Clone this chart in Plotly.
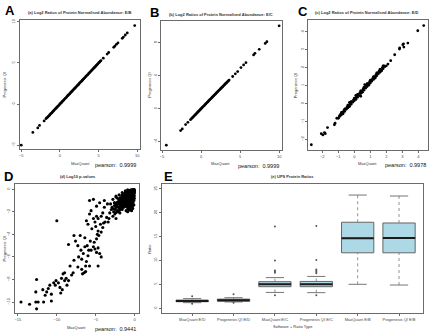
import plotly.graph_objects as go

# ---------------- data ----------------
# Panel A: Log2 ratios E/B (MaxQuant vs Progenesis QI)
a_x = [-5.0, -3.5, -2.86, -2.64, -2.04, -1.8,
       -1.7, -1.6, -1.5, -1.4, -1.3, -1.2, -1.1, -1.0, -0.9, -0.8, -0.7, -0.6, -0.5, -0.4, -0.3, -0.2, -0.1,
       0.0, 0.1, 0.2, 0.3, 0.4, 0.5, 0.6, 0.7, 0.8, 0.9, 1.0, 1.1, 1.2, 1.3, 1.4, 1.5, 1.6, 1.7, 1.8, 1.9,
       2.0, 2.1, 2.2, 2.3, 2.4, 2.5, 2.6, 2.7, 2.8, 2.9, 3.0, 3.1, 3.2, 3.3, 3.4, 3.5, 3.6, 3.7, 3.8, 3.9,
       4.0, 4.1, 4.2, 4.3, 4.4, 4.5, 4.6, 4.7, 4.8, 4.9, 5.0, 5.1, 5.2, 5.3,
       5.6, 6.1, 6.3, 6.95, 7.1, 7.3, 7.5, 8.05, 8.2, 8.45, 8.7, 9.66]
a_y = [-5.0, -3.45, -2.9, -2.6, -2.05, -1.78,
       -1.68, -1.61, -1.49, -1.41, -1.3, -1.19, -1.11, -1.0, -0.89, -0.81, -0.7, -0.59, -0.51, -0.4, -0.29, -0.21, -0.1,
       0.01, 0.1, 0.19, 0.31, 0.4, 0.49, 0.61, 0.7, 0.79, 0.9, 1.01, 1.1, 1.19, 1.3, 1.41, 1.5, 1.59, 1.7, 1.81, 1.9,
       1.99, 2.1, 2.21, 2.3, 2.39, 2.5, 2.61, 2.7, 2.79, 2.9, 3.01, 3.1, 3.19, 3.3, 3.41, 3.5, 3.59, 3.7, 3.8, 3.89,
       4.0, 4.1, 4.19, 4.3, 4.4, 4.49, 4.6, 4.7, 4.79, 4.9, 5.0, 5.09, 5.2, 5.29,
       5.58, 6.08, 6.27, 6.9, 7.06, 7.27, 7.45, 8.0, 8.15, 8.4, 8.65, 9.55]

# Panel B: Log2 ratios E/C
b_x = [-4.45, -2.62, -2.41, -1.98, -1.69, -1.35,
       -1.2, -1.1, -1.0, -0.9, -0.8, -0.7, -0.6, -0.5, -0.4, -0.3, -0.2, -0.1, 0.0, 0.1, 0.2, 0.3, 0.4, 0.5,
       0.6, 0.7, 0.8, 0.9, 1.0, 1.1, 1.2, 1.3, 1.4, 1.5, 1.6, 1.7, 1.8, 1.9, 2.0, 2.1, 2.2, 2.3, 2.4, 2.5,
       2.6, 2.7, 2.8, 2.9, 3.0, 3.1, 3.2, 3.3, 3.4, 3.5, 3.6,
       4.05, 4.39, 4.69, 5.11, 5.45, 5.75, 6.73, 6.9, 7.45, 8.22, 8.43, 10.0]
b_y = [-4.42, -2.65, -2.45, -1.93, -1.65, -1.33,
       -1.19, -1.09, -0.99, -0.9, -0.79, -0.69, -0.6, -0.49, -0.4, -0.3, -0.2, -0.1, -0.01, 0.09, 0.19, 0.29, 0.38, 0.48,
       0.58, 0.68, 0.77, 0.87, 0.97, 1.07, 1.16, 1.26, 1.36, 1.45, 1.55, 1.65, 1.74, 1.84, 1.94, 2.03, 2.13, 2.22, 2.32, 2.42,
       2.51, 2.61, 2.7, 2.8, 2.9, 2.99, 3.09, 3.18, 3.28, 3.37, 3.47,
       3.9, 4.22, 4.5, 4.98, 5.3, 5.58, 6.51, 6.71, 7.19, 7.91, 8.11, 10.04]

# Panel C: Log2 ratios E/D
c_x = [-2.68, -2.06, -1.96, -1.86, -1.81, -1.67, -1.24, -1.2, -1.09, -0.99, -0.93,
       -0.9, -0.85, -0.8, -0.75, -0.7, -0.65, -0.6, -0.55, -0.5, -0.45, -0.4, -0.35, -0.3, -0.25, -0.2, -0.15,
       -0.1, -0.05, 0.0, 0.05, 0.1, 0.15, 0.2, 0.25, 0.3, 0.35, 0.4, 0.45, 0.5, 0.55, 0.6, 0.65, 0.7, 0.75,
       0.8, 0.85, 0.9, 0.95, 1.0, 1.05, 1.1, 1.15, 1.2, 1.25, 1.3, 1.35, 1.4, 1.45, 1.5, 1.55, 1.6, 1.65,
       1.7, 1.75, 1.8, 1.85, 1.9,
       -0.8, -0.6, -0.4, -0.2, 0.0, 0.2, 0.4, 0.6, 0.8, 1.0, 1.2, 1.4, 1.6, 1.8, -0.7, -0.3, 0.1, 0.5, 0.9, 1.3, 1.7,
       -0.3, 0.1, 0.4, 0.65,
       1.03, 2.0, 2.1, 2.27, 2.52, 2.82, 3.03, 3.07, 2.83, 3.09, 3.34, 3.96, 4.33]
c_y = [-2.31, -1.69, -1.76, -1.63, -1.69, -1.35, -1.2, -1.11, -0.83, -0.83, -0.7,
       -0.72, -0.6, -0.63, -0.5, -0.52, -0.4, -0.45, -0.3, -0.33, -0.2, -0.25, -0.1, -0.14, 0.0, -0.05, 0.1,
       0.06, 0.2, 0.15, 0.3, 0.25, 0.4, 0.34, 0.5, 0.44, 0.6, 0.55, 0.7, 0.64, 0.8, 0.74, 0.9, 0.85, 1.0,
       0.94, 1.1, 1.05, 1.2, 1.14, 1.3, 1.25, 1.4, 1.34, 1.5, 1.45, 1.6, 1.54, 1.7, 1.65, 1.8, 1.74, 1.9,
       1.85, 2.0, 1.94, 2.1, 2.05,
       -0.5, -0.32, -0.1, 0.1, 0.3, 0.5, 0.7, 0.9, 1.1, 1.3, 1.5, 1.7, 1.9, 2.1, -0.58, -0.18, 0.22, 0.62, 1.02, 1.42, 1.82,
       0.05, 0.45, 0.4, 1.05,
       1.24, 2.1, 2.2, 2.39, 2.72, 3.04, 3.28, 3.33, 3.1, 3.15, 3.37, 4.06, 4.35]

# Panel D: Log10 p-values
d_x = [-14.6, -13.5, -12.7, -12.6, -12.4, -11.7, -10.7, -12.7, -12.6, -11.8, -11.5, -11.3, -11.1, -10.7,
       -10.9, -10.4, -10.2, -10.1, -9.8, -9.6, -9.5, -9.3, -9.4, -9.2, -9.0, -9.0, -8.8, -8.7, -8.5,
       -10.0, -8.5, -7.8, -7.6, -7.0, -7.8, -7.3, -7.2, -6.9, -6.8, -6.6, -6.4, -6.3, -6.2, -6.0, -5.9,
       -5.8, -5.8, -5.6, -6.1, -5.3, -5.1, -4.9, -4.7, -4.5, -5.2, -4.9, -4.6, -4.3, -4.1, -4.7, -4.4,
       -6.2, -6.0, -5.8, -5.6, -5.3, -5.1, -4.9, -4.7, -4.3, -4.1, -3.9, -3.6, -3.4, -3.2, -3.0, -3.5,
       -3.9, -4.5, -4.9, -5.3, -2.6, -2.4, -2.1, -1.9, -1.7, -1.5, -2.8, -2.4, -4.7, -4.3, -6.5, -6.8,
       -7.3, -7.9, -8.1, -8.3, -6.3, -6.7, -5.5, -5.0, -4.8, -3.8, -3.3, -4.0, -6.4, -5.7,
       -0.1, -0.2, -0.3, -0.15, -0.4, -0.5, -0.25, -0.6, -0.7, -0.35, -0.8, -0.9, -0.5, -1.0, -1.1, -0.65,
       -1.2, -1.3, -0.8, -1.4, -1.5, -1.0, -1.6, -1.7, -1.2, -1.8, -1.9, -1.4, -2.0, -2.1, -1.6, -2.2,
       -2.3, -2.5, -2.7, -0.05, -0.1, -0.15, -0.2, -0.3, -0.05, -0.1, -0.4, -0.2, -0.3, -0.45, -0.55,
       -0.7, -0.85, -0.6, -0.9, -1.1, -0.3, -0.5, -0.75, -0.95, -1.15, -1.35, -1.55, -1.75, -1.95, -0.6,
       -0.85, -1.05, -1.25, -1.45, -1.65, -1.85, -2.05, -2.25, -2.45, -0.15, -0.35, -0.55, -0.25, -0.45,
       -0.65, -0.05, -0.12, -0.22, -0.38, -0.48, -0.58, -0.78, -0.88, -0.98, -1.08, -1.18, -1.28, -1.38,
       -1.48, -1.58, -1.68, -1.78, -0.02, -0.08, -0.18, -0.28, -0.33, -0.42, -0.52, -0.62, -0.72, -0.82,
       -0.92, -1.02, -0.1, -0.25, -0.4, -0.7, -2.2, -2.6, -2.9, -3.1, -2.8, -2.4, -2.0, -1.6, -1.2, -0.9,
       -0.05, -0.12, -0.2, -0.28, -0.36, -0.44, -0.52, -0.6, -0.68, -0.76, -0.84, -0.92, -1.0, -1.08,
       -1.16, -1.24, -1.32, -1.4, -1.48, -1.56,
       -0.08, -0.16, -0.24, -0.32, -0.4, -0.48, -0.56, -0.64, -0.72, -0.8, -0.88, -0.96, -1.04, -1.12,
       -1.2, -1.28, -1.36, -1.44, -1.52, -1.6,
       -1.7, -1.85, -2.0, -2.15, -2.3, -2.45, -2.6, -2.75, -1.9, -2.1, -2.35, -2.55, -0.15, -0.3,
       -0.45, -0.6, -0.75, -0.9, -1.05, -0.2]
d_y = [-10.0, -10.2, -10.0, -10.6, -10.0, -10.0, -9.9, -9.1, -8.0, -8.9, -9.4, -9.1, -8.8, -9.3,
       -8.5, -8.3, -8.5, -8.1, -8.3, -8.7, -9.2, -8.9, -7.9, -7.5, -7.4, -8.1, -7.9, -8.5, -8.1,
       -2.8, -4.9, -4.1, -4.6, -4.1, -6.3, -5.0, -6.0, -5.4, -6.2, -5.7, -5.1, -6.8, -6.4, -5.9, -5.4,
       -1.0, -6.8, -5.4, -5.0, -5.1, -5.3, -5.6, -5.2, -5.7, -4.7, -4.4, -4.1, -3.8, -3.4, -3.7, -3.1,
       -2.8, -3.1, -2.2, -1.9, -2.6, -2.9, -2.4, -2.6, -2.4, -2.1, -1.6, -2.5, -2.9, -2.1, -1.8, -1.3,
       -1.0, -1.2, -1.5, -0.9, -1.2, -0.7, -1.6, -2.1, -1.3, -1.0, -2.4, -2.6, -6.8, -6.0, -7.4, -7.1,
       -6.9, -7.4, -7.6, -6.8, -7.3, -7.5, -3.5, -3.3, -4.0, -2.9, -2.6, -3.0, -4.3, -4.6,
       -0.05, -0.1, -0.15, -0.3, -0.2, -0.1, -0.45, -0.35, -0.2, -0.6, -0.5, -0.3, -0.7, -0.6, -0.4, -0.85,
       -0.8, -0.55, -1.0, -1.0, -0.7, -1.2, -1.2, -0.9, -1.4, -1.45, -1.1, -1.6, -1.6, -1.3, -1.8, -1.9,
       -1.5, -1.8, -2.0, -0.3, -0.5, -0.7, -0.9, -1.1, -0.8, -1.0, -1.3, -1.2, -0.8, -0.95, -1.15,
       -1.3, -1.5, -1.6, -1.75, -1.9, -1.5, -1.8, -0.65, -0.85, -1.05, -1.25, -1.45, -1.65, -1.85, -0.55,
       -0.15, -0.25, -0.35, -0.45, -0.55, -0.75, -0.95, -1.15, -1.35, -0.15, -0.35, -0.45, -0.25, -0.05,
       -0.1, -0.6, -0.4, -0.65, -0.75, -0.55, -0.25, -0.35, -0.7, -0.45, -0.9, -0.65, -1.1, -0.8,
       -1.3, -1.0, -1.5, -1.2, -0.15, -0.22, -0.02, -0.05, -0.25, -0.38, -0.28, -0.62, -0.45, -0.82,
       -0.6, -1.05, -1.4, -1.7, -1.9, -1.85, -0.8, -1.2, -1.6, -1.3, -0.9, -0.6, -0.5, -0.3, -0.15, -0.05,
       -0.02, -0.12, -0.06, -0.18, -0.1, -0.22, -0.15, -0.3, -0.2, -0.38, -0.28, -0.45, -0.35, -0.55,
       -0.42, -0.62, -0.5, -0.7, -0.58, -0.78,
       -0.35, -0.55, -0.75, -0.95, -0.6, -0.85, -1.05, -0.72, -0.95, -1.2, -0.88, -1.1, -1.35, -1.0,
       -1.25, -1.45, -1.15, -1.4, -1.6, -1.3,
       -1.0, -1.3, -1.15, -1.55, -1.25, -1.65, -1.45, -1.75, -1.75, -2.0, -2.05, -2.2, -0.9, -1.3,
       -1.5, -1.4, -1.7, -2.0, -1.55, -0.7]

# Panel E: UPS protein ratios (box statistics)
e_labels = ["MaxQuant E/D", "Progenesis QI E/D", "MaxQuant E/C", "Progenesis QI E/C",
            "MaxQuant E/B", "Progenesis QI E/B"]
e_pos = [1, 2, 3, 4, 5, 6]
e_q1 = [1.35, 1.45, 4.5, 4.5, 11.6, 11.6]
e_med = [1.5, 1.68, 5.0, 5.0, 14.65, 14.7]
e_q3 = [1.7, 1.9, 5.55, 5.6, 18.0, 17.85]
e_lo = [1.15, 1.3, 3.3, 3.25, 5.0, 4.85]
e_hi = [2.0, 2.2, 6.4, 6.65, 23.7, 23.5]
e_out = [[2.5, 0.9], [2.9, 1.15], [2.7, 7.4, 7.7, 7.9, 10.0, 17.1],
         [2.7, 7.3, 7.6, 7.85, 8.1, 10.1, 17.2], [], []]

pearson = ["0.9999", "0.9999", "0.9978", "0.9441"]

# ---------------- figure ----------------
W, H = 432, 333
FONT = "Liberation Sans"


def xd(p0, p1):
    return [p0 / W, p1 / W]


def yd(p0, p1):
    return [1 - p1 / H, 1 - p0 / H]


def ax(**kw):
    base = dict(showline=True, mirror=True, linecolor="#6b6b6b", linewidth=1,
                ticks="outside", ticklen=2, tickwidth=0.7, tickcolor="#6b6b6b",
                showgrid=False, zeroline=False,
                tickfont=dict(size=4, color="#444", family=FONT))
    base.update(kw)
    return base


fig = go.Figure()
mk = dict(color="black", size=2.8, line=dict(width=0))
mkd = dict(color="black", size=3.1, line=dict(width=0))
fig.add_trace(go.Scatter(x=a_x, y=a_y, mode="markers", marker=mk, xaxis="x", yaxis="y"))
fig.add_trace(go.Scatter(x=b_x, y=b_y, mode="markers", marker=mk, xaxis="x2", yaxis="y2"))
fig.add_trace(go.Scatter(x=c_x, y=c_y, mode="markers", marker=mk, xaxis="x3", yaxis="y3"))
fig.add_trace(go.Scatter(x=d_x, y=d_y, mode="markers", marker=mkd, xaxis="x4", yaxis="y4"))

bw = 0.78
for i in range(6):
    p = e_pos[i]
    # dashed whiskers
    fig.add_trace(go.Scatter(x=[p, p], y=[e_q3[i], e_hi[i]], mode="lines",
                             line=dict(color="#777", width=0.8, dash="dot"), xaxis="x5", yaxis="y5"))
    fig.add_trace(go.Scatter(x=[p, p], y=[e_lo[i], e_q1[i]], mode="lines",
                             line=dict(color="#777", width=0.8, dash="dot"), xaxis="x5", yaxis="y5"))
    # caps
    for v in (e_lo[i], e_hi[i]):
        fig.add_trace(go.Scatter(x=[p - 0.22, p + 0.22], y=[v, v], mode="lines",
                                 line=dict(color="#666", width=0.9), xaxis="x5", yaxis="y5"))
    fig.add_trace(go.Box(x=[p], q1=[e_q1[i]], median=[e_med[i]], q3=[e_q3[i]],
                         lowerfence=[e_q1[i]], upperfence=[e_q3[i]], width=bw,
                         fillcolor="#add8e6", line=dict(color="#666", width=1),
                         whiskerwidth=0, boxpoints=False, xaxis="x5", yaxis="y5"))
    fig.add_trace(go.Scatter(x=[p - bw / 2, p + bw / 2], y=[e_med[i], e_med[i]], mode="lines",
                             line=dict(color="#1a1a1a", width=2), xaxis="x5", yaxis="y5"))
    if e_out[i]:
        fig.add_trace(go.Scatter(x=[p] * len(e_out[i]), y=e_out[i], mode="markers",
                                 marker=dict(color="#555", size=2, line=dict(width=0)),
                                 xaxis="x5", yaxis="y5"))

fig.update_layout(
    width=W, height=H, margin=dict(l=0, r=0, t=0, b=0),
    paper_bgcolor="white", plot_bgcolor="white", showlegend=False,
    font=dict(family=FONT),
    xaxis=ax(domain=xd(18, 139), range=[-5.17, 10.39], anchor="y", tickvals=[-5, 0, 5, 10]),
    yaxis=ax(domain=yd(18, 148), range=[-5.48, 10.24], anchor="x", tickvals=[-5, 0, 5, 10], tickangle=-90),
    xaxis2=ax(domain=xd(160, 281), range=[-5.1, 10.33], anchor="y2", tickvals=[-5, 0, 5, 10]),
    yaxis2=ax(domain=yd(19, 149), range=[-5.02, 10.64], anchor="x2", tickvals=[-4, 0, 4, 8], tickangle=-90),
    xaxis3=ax(domain=xd(307.7, 427.7), range=[-2.87, 4.58], anchor="y3", tickvals=[-2, -1, 0, 1, 2, 3, 4]),
    yaxis3=ax(domain=yd(18.3, 149), range=[-2.61, 4.65], anchor="x3", tickvals=[-2, -1, 0, 1, 2, 3, 4], tickangle=-90),
    xaxis4=ax(domain=xd(13, 138), range=[-15.38, 0.6], anchor="y4", tickvals=[-15, -10, -5, 0]),
    yaxis4=ax(domain=yd(183, 313), range=[-10.98, 0.47], anchor="x4", tickvals=[-10, -8, -6, -4, -2, 0], tickangle=-90),
    xaxis5=ax(domain=xd(160.7, 423), range=[0.27, 6.58], anchor="y5", tickvals=e_pos, ticktext=e_labels),
    yaxis5=ax(domain=yd(182.7, 313.3), range=[-1.1, 26.1], anchor="x5", tickvals=[0, 5, 10, 15, 20, 25], tickangle=-90),
)

ann = []


def txt(s, px, py, size=4, bold=False, color="#333", angle=0, xanchor="center"):
    ann.append(dict(text=("<b>%s</b>" % s) if bold else s, x=px / W, y=1 - py / H,
                    xref="paper", yref="paper", showarrow=False, textangle=angle,
                    xanchor=xanchor, yanchor="middle",
                    font=dict(size=size, color=color, family=FONT)))


# panel letters
txt("A", 8, 9, size=13, bold=True, color="black")
txt("B", 153, 11, size=13, bold=True, color="black")
txt("C", 302, 10, size=13, bold=True, color="black")
txt("D", 7, 176, size=13, bold=True, color="black")
txt("E", 167, 176, size=13, bold=True, color="black")

# titles
txt("(a) Log2 Ratios of Protein Normalised Abundance: E/B", 78.5, 11, size=4, bold=True)
txt("(b) Log2 Ratios of Protein Normalised Abundance: E/C", 220, 12.5, size=4, bold=True)
txt("(c) Log2 Ratios of Protein Normalised Abundance: E/D", 367, 11, size=4, bold=True)
txt("(d) Log10 p-values", 76, 176, size=4, bold=True)
txt("(e) UPS Protein Ratios", 292, 176, size=4, bold=True)

# axis labels
for cx, cy in [(78.5, 162), (220, 162), (367, 162), (75, 327)]:
    txt("MaxQuant", cx, cy, size=4)
for cx, cy in [(3, 83), (148, 84), (295, 84), (3, 248)]:
    txt("Progenesis QI", cx, cy, size=4, angle=-90)
txt("Software + Ratio Type", 292, 326.5, size=4)
txt("Ratio", 148, 248, size=4, angle=-90)

# pearson values
txt("pearson:  " + pearson[0], 137, 163.5, size=5.5, color="#111", xanchor="right")
txt("pearson:  " + pearson[1], 280, 165, size=5.5, color="#111", xanchor="right")
txt("pearson:  " + pearson[2], 428, 163.5, size=5.5, color="#111", xanchor="right")
txt("pearson:  " + pearson[3], 137, 329, size=5.5, color="#111", xanchor="right")

fig.update_layout(annotations=ann)
fig.write_html("out.html", config={"displayModeBar": False})
